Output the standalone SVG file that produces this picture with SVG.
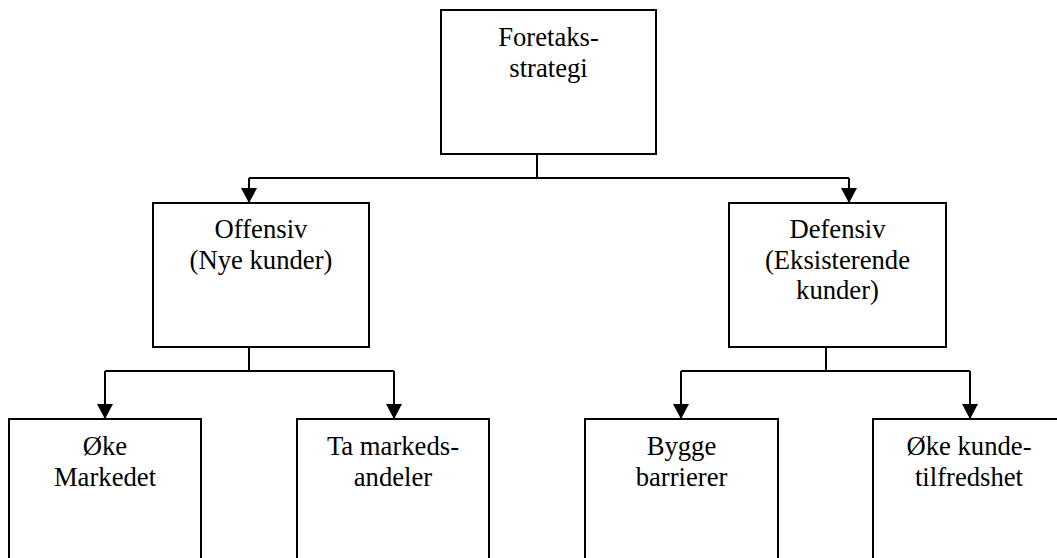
<svg xmlns="http://www.w3.org/2000/svg" width="1057" height="558" viewBox="0 0 1057 558">
  <style>
    .box { fill: #ffffff; stroke: #000000; stroke-width: 2; }
    .lbl { font-family: 'Liberation Serif', 'DejaVu Serif', serif; font-size: 26.67px; fill: #000000; text-anchor: middle; }
    .wire { fill: none; stroke: #000000; stroke-width: 2; }
  </style>
  <defs>
    <marker id="arrow" viewBox="0 0 15 16" refX="15" refY="8" markerWidth="15" markerHeight="16" markerUnits="userSpaceOnUse" orient="auto">
      <path d="M0,0 L15,8 L0,16 Z" fill="#000000"/>
    </marker>
  </defs>
  <rect width="1057" height="558" fill="#ffffff"/>

  <!-- connectors -->
  <g id="connectors">
    <path class="wire" d="M537,154 V178 M249,178 H849"/>
    <path class="wire" d="M249,178 V203" marker-end="url(#arrow)"/>
    <path class="wire" d="M849,178 V203" marker-end="url(#arrow)"/>

    <path class="wire" d="M249,347 V371 M105,371 H394"/>
    <path class="wire" d="M105,371 V419" marker-end="url(#arrow)"/>
    <path class="wire" d="M394,371 V419" marker-end="url(#arrow)"/>

    <path class="wire" d="M826,347 V371 M681,371 H970"/>
    <path class="wire" d="M681,371 V419" marker-end="url(#arrow)"/>
    <path class="wire" d="M970,371 V419" marker-end="url(#arrow)"/>
  </g>

  <!-- top level -->
  <g id="foretaksstrategi" font-family="Liberation Serif, serif">
    <rect class="box" x="441" y="10" width="215" height="144"/>
    <text class="lbl" x="548.5" y="46">Foretaks-</text>
    <text class="lbl" x="548.5" y="77">strategi</text>
  </g>

  <!-- second level -->
  <g id="offensiv">
    <rect class="box" x="153" y="203" width="216" height="144"/>
    <text class="lbl" x="261" y="238">Offensiv</text>
    <text class="lbl" x="261" y="269">(Nye kunder)</text>
  </g>
  <g id="defensiv">
    <rect class="box" x="729" y="203" width="217" height="144"/>
    <text class="lbl" x="837.5" y="238">Defensiv</text>
    <text class="lbl" x="837.5" y="269">(Eksisterende</text>
    <text class="lbl" x="837.5" y="299">kunder)</text>
  </g>

  <!-- third level -->
  <g id="oke-markedet">
    <rect class="box" x="9" y="419" width="192" height="160"/>
    <text class="lbl" x="105" y="455">Øke</text>
    <text class="lbl" x="105" y="486">Markedet</text>
  </g>
  <g id="ta-markedsandeler">
    <rect class="box" x="297" y="419" width="192" height="160"/>
    <text class="lbl" x="393" y="455">Ta markeds-</text>
    <text class="lbl" x="393" y="486">andeler</text>
  </g>
  <g id="bygge-barrierer">
    <rect class="box" x="585" y="419" width="193" height="160"/>
    <text class="lbl" x="681.5" y="455">Bygge</text>
    <text class="lbl" x="681.5" y="486">barrierer</text>
  </g>
  <g id="oke-kundetilfredshet">
    <rect class="box" x="873" y="419" width="192" height="160"/>
    <text class="lbl" x="969" y="455">Øke kunde-</text>
    <text class="lbl" x="969" y="486">tilfredshet</text>
  </g>
</svg>
